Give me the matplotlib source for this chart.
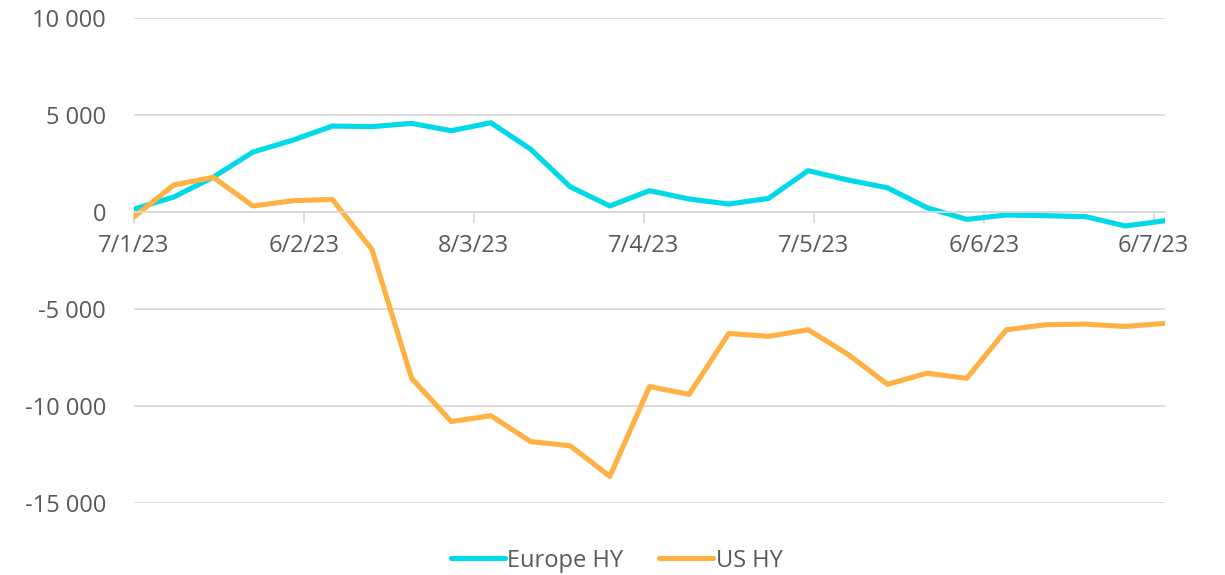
import matplotlib
matplotlib.use("Agg")
import matplotlib.pyplot as plt
import numpy as np
import datetime as dt

# weekly observations, 7 Jan 2023 -> 8 Jul 2023
dates = ["2023-01-07", "2023-01-14", "2023-01-21", "2023-01-28", "2023-02-04",
         "2023-02-11", "2023-02-18", "2023-02-25", "2023-03-04", "2023-03-11",
         "2023-03-18", "2023-03-25", "2023-04-01", "2023-04-08", "2023-04-15",
         "2023-04-22", "2023-04-29", "2023-05-06", "2023-05-13", "2023-05-20",
         "2023-05-27", "2023-06-03", "2023-06-10", "2023-06-17", "2023-06-24",
         "2023-07-01", "2023-07-08"]

europe_hy = [150, 770, 1800, 3090, 3700, 4430, 4400, 4570, 4190, 4600,
             3240, 1300, 310, 1100, 670, 410, 700, 2130, 1650, 1250,
             220, -380, -155, -190, -240, -720, -450]

us_hy = [-250, 1390, 1790, 310, 580, 650, -1930, -8570, -10800, -10500,
         -11830, -12050, -13630, -9000, -9400, -6260, -6410, -6070, -7330, -8880,
         -8310, -8570, -6070, -5810, -5780, -5900, -5740]

tick_dates = ["2023-01-07", "2023-02-06", "2023-03-08", "2023-04-07",
              "2023-05-07", "2023-06-06", "2023-07-06"]
y_ticks = [-15000, -10000, -5000, 0, 5000, 10000]

x = [dt.datetime.strptime(d, "%Y-%m-%d") for d in dates]
xt = [dt.datetime.strptime(d, "%Y-%m-%d") for d in tick_dates]

plt.rcParams['font.family'] = ['Open Sans', 'DejaVu Sans']
txt = '#595959'
grid = '#D9D9D9'

fig = plt.figure(figsize=(12.25, 5.75), dpi=100)
ax = fig.add_axes([0.1094, 0.1252, 0.8416, 0.8435])

ax.plot(x, europe_hy, color='#00D9E8', lw=3.7, label='Europe HY',
        solid_capstyle='round', solid_joinstyle='round')
ax.plot(x, us_hy, color='#FFB143', lw=3.7, label='US HY',
        solid_capstyle='round', solid_joinstyle='round')

ax.set_ylim(-15000, 10000)
ax.set_xlim(x[0], x[-1])
ax.set_yticks(y_ticks)
ax.set_yticklabels([f"{v:,}".replace(",", " ") for v in y_ticks])
ax.yaxis.grid(True, color=grid, lw=1.3)
ax.set_axisbelow(True)

ax.set_xticks(xt)
ax.set_xticklabels([f"{d.day}/{d.month}/{d:%y}" for d in xt])

for s in ['top', 'right', 'left']:
    ax.spines[s].set_visible(False)
ax.spines['bottom'].set_position(('data', 0))
ax.spines['bottom'].set_color(grid)
ax.spines['bottom'].set_linewidth(1.3)

ax.tick_params(axis='y', length=0, pad=20, labelsize=17, labelcolor=txt)
ax.tick_params(axis='x', length=8, width=1.3, color=grid, pad=8,
               labelsize=17, labelcolor=txt)

leg = ax.legend(loc='upper center', bbox_to_anchor=(0.468, -0.05), ncol=2,
                frameon=False, fontsize=17, handlelength=2.3,
                handletextpad=0.1, columnspacing=1.5)
for t in leg.get_texts():
    t.set_color(txt)

fig.savefig('out.png', dpi=100)
